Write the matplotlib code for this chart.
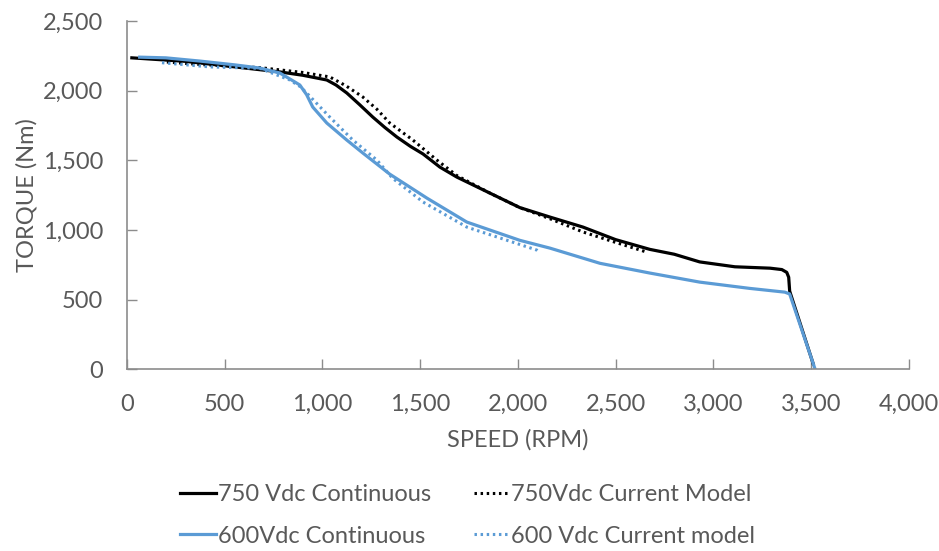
import matplotlib.pyplot as plt
import numpy as np

# torque-speed curves ----------------------------------------------------------

# 750 Vdc continuous
speed750 = [26, 300, 680, 783, 900, 1023, 1070, 1125, 1190, 1258, 1320, 1381, 1450, 1515, 1601,
            1688, 1857, 2010, 2164, 2333, 2500, 2675, 2800, 2930, 3110, 3290, 3350, 3375, 3385,
            3390, 3510]
torque750 = [2235, 2210, 2150, 2134, 2110, 2076, 2040, 1983, 1900, 1810, 1735, 1667, 1600, 1545,
             1451, 1379, 1264, 1160, 1092, 1020, 930, 860, 825, 770, 735, 725, 715, 695, 660,
             560, 40]

# 750 Vdc current model
speed750m = [205, 400, 680, 900, 1038, 1120, 1207, 1280, 1345, 1463, 1586, 1688, 1857, 2010,
             2164, 2333, 2500, 2660]
torque750m = [2205, 2185, 2165, 2130, 2098, 2035, 1954, 1865, 1767, 1645, 1501, 1390, 1264,
              1160, 1080, 985, 910, 840]

# 600 Vdc continuous
speed600 = [66, 200, 373, 550, 680, 783, 850, 885, 920, 951, 1023, 1125, 1207, 1345, 1535,
            1739, 2010, 2164, 2420, 2675, 2930, 3185, 3365, 3390, 3520]
torque600 = [2240, 2235, 2212, 2185, 2162, 2126, 2070, 2040, 1970, 1882, 1767, 1645, 1552,
             1400, 1228, 1056, 925, 869, 760, 690, 625, 580, 553, 540, 0]

# 600 Vdc current model
speed600m = [180, 425, 680, 834, 885, 920, 1038, 1156, 1279, 1360, 1515, 1739, 2097, 2110]
torque600m = [2200, 2170, 2160, 2076, 2030, 1983, 1810, 1645, 1501, 1370, 1200, 1020, 855, 840]

# plot ---------------------------------------------------------------------------

grey = '#595959'
plt.rcParams['font.family'] = ['Lato', 'DejaVu Sans']

fig = plt.figure(figsize=(9.39, 5.51), dpi=100)
ax = fig.add_axes([0.135, 0.330, 0.833, 0.632])

h1, = ax.plot(speed750, torque750, color='black', lw=2.3, label='750 Vdc Continuous')
h3, = ax.plot(speed750m, torque750m, color='black', lw=2.2, ls=(0, (0.8, 1.2)),
              label='750Vdc Current Model')
h2, = ax.plot(speed600, torque600, color='#5B9BD5', lw=2.3, label='600Vdc Continuous')
h4, = ax.plot(speed600m, torque600m, color='#5B9BD5', lw=2.2, ls=(0, (0.8, 1.2)),
              label='600 Vdc Current model')

ax.set_xlim(0, 4000)
ax.set_ylim(0, 2500)
ax.set_xticks(np.arange(0, 4001, 500))
ax.set_yticks(np.arange(0, 2501, 500))
ax.xaxis.set_major_formatter(lambda v, p: f"{int(v):,}")
ax.yaxis.set_major_formatter(lambda v, p: f"{int(v):,}")

for side in ['top', 'right']:
    ax.spines[side].set_visible(False)
for side in ['left', 'bottom']:
    ax.spines[side].set_color('#8c8c8c')
    ax.spines[side].set_linewidth(1.2)
ax.tick_params(direction='in', length=7, width=1, color='#8c8c8c',
               labelcolor=grey, labelsize=17)
ax.tick_params(axis='x', pad=18)
ax.tick_params(axis='y', pad=17)

ax.set_xlabel('SPEED (RPM)', fontsize=17, color=grey, labelpad=10)
ax.set_ylabel('TORQUE (Nm)', fontsize=17, color=grey, labelpad=4)

fig.legend(handles=[h1, h2, h3, h4], loc='lower left', bbox_to_anchor=(0.192, 0.008),
           ncol=2, frameon=False, fontsize=17, labelcolor=grey, handlelength=1.5,
           handletextpad=0.1, columnspacing=1.8, labelspacing=0.88,
           borderpad=0, borderaxespad=0)

fig.savefig('out.png', dpi=100)
